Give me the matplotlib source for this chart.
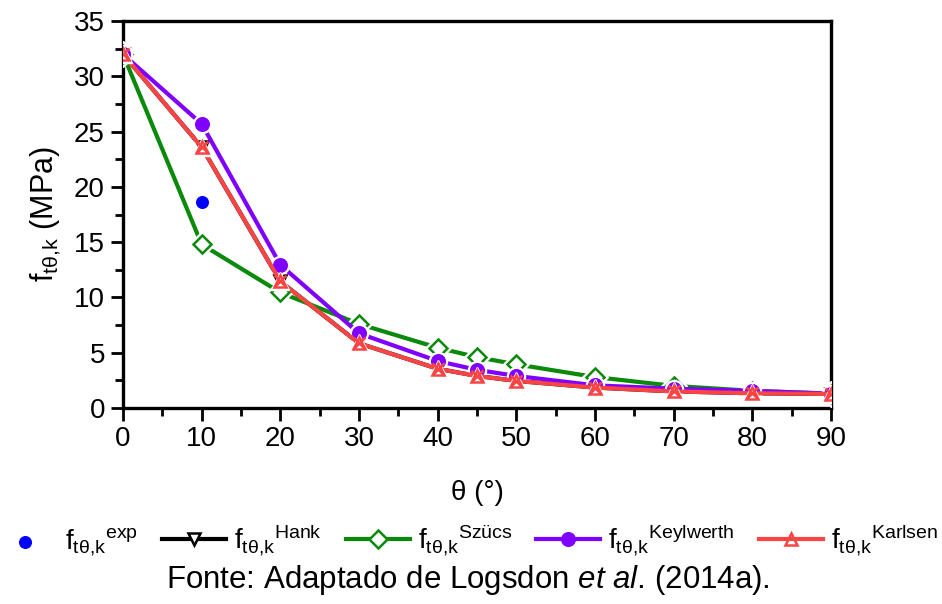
import matplotlib
matplotlib.use("Agg")
import matplotlib.pyplot as plt
from matplotlib.ticker import MultipleLocator

plt.rcParams['font.family'] = ['Liberation Sans', 'DejaVu Sans']
plt.rcParams['mathtext.fontset'] = 'custom'
plt.rcParams['mathtext.rm'] = 'Liberation Sans'
plt.rcParams['mathtext.it'] = 'Liberation Sans:italic'

theta = [0, 10, 20, 30, 40, 45, 50, 60, 70, 80, 90]
f_exp = [32.0, 18.6, 12.9, 6.7, 4.5, 3.4, 2.9, 2.0, 2.0, 1.8, 1.3]
f_hank = [32.0, 23.6, 11.45, 5.85, 3.55, 2.9, 2.45, 1.85, 1.5, 1.33, 1.27]
f_szucs = [32.0, 14.8, 10.45, 7.6, 5.45, 4.6, 3.95, 2.8, 2.0, 1.55, 1.3]
f_keyl = [32.0, 25.7, 12.95, 6.75, 4.25, 3.45, 2.9, 2.05, 1.75, 1.55, 1.3]
f_karl = [32.0, 23.6, 11.45, 5.85, 3.55, 2.9, 2.45, 1.85, 1.5, 1.33, 1.27]

xticks = [0, 10, 20, 30, 40, 50, 60, 70, 80, 90]
yticks = [0, 5, 10, 15, 20, 25, 30, 35]

SUB = r'$_{\mathregular{t\theta{,}k}}$'


def lab(sup):
    return 'f' + SUB + r'$^{\mathregular{' + sup + '}}$'


fig = plt.figure(figsize=(9.42, 6.04), dpi=100)
ax = fig.add_axes([0.1306, 0.3245, 0.7516, 0.6405])

lw = 3.0
ms = 9

# experimental points sit underneath the model curves
h_exp = ax.scatter(theta, f_exp, s=70, color='#0000ff', zorder=1.5,
                   label=lab('exp'))


def series(y, color, marker, fill, label, z):
    # line with a white halo around each marker
    ax.plot(theta, y, color=color, lw=lw, zorder=z)
    ax.plot(theta, y, ls='none', marker=marker, ms=ms + 4, mfc='white',
            mec='white', zorder=z + 0.1)
    ax.plot(theta, y, ls='none', marker=marker, ms=ms, mfc=fill,
            mec=color, mew=1.8, zorder=z + 0.2)
    return ax.plot([], [], color=color, lw=lw, marker=marker, ms=ms,
                   mfc=fill, mec=color, mew=1.8, label=label)[0]


h_hank = series(f_hank, 'black', 'v', 'white', lab('Hank'), 2)
h_szucs = series(f_szucs, '#0a8a0a', 'D', 'white', lab('Szücs'), 3)
h_keyl = series(f_keyl, '#8000ff', 'o', '#8000ff', lab('Keylwerth'), 4)
h_karl = series(f_karl, '#f84444', '^', 'none', lab('Karlsen'), 5)
ax.plot(theta, f_karl, ls='none', marker='x', ms=ms - 1, mec='#f84444',
        mew=1.8, zorder=5.3)

ax.set_xlim(0, 90)
ax.set_ylim(0, 35)
ax.set_xticks(xticks)
ax.set_yticks(yticks)
ax.xaxis.set_minor_locator(MultipleLocator(5))
ax.yaxis.set_minor_locator(MultipleLocator(2.5))
ax.tick_params(which='major', direction='out', length=9, width=2,
               labelsize=20, pad=4)
ax.tick_params(which='minor', direction='out', length=5.5, width=2)
for s in ax.spines.values():
    s.set_linewidth(2.4)

ax.set_xlabel('θ (°)', fontsize=20, labelpad=20)
ax.set_ylabel('f' + SUB + ' (MPa)', fontsize=22, labelpad=8)

leg_fs = 20
em = leg_fs * 100 / 72
fig.legend(handles=[h_exp, h_hank, h_szucs, h_keyl, h_karl],
           loc='center', bbox_to_anchor=(0.494, 0.105), ncol=5,
           frameon=False, fontsize=leg_fs, handlelength=64 / em,
           handletextpad=8 / em, columnspacing=24 / em, borderaxespad=0,
           borderpad=0)

fig.text(0.497, 0.04, 'Fonte: Adaptado de Logsdon $\\mathit{et\\ al}$. (2014a).',
         ha='center', va='center', fontsize=22.5)

fig.savefig('out.png', dpi=100)
